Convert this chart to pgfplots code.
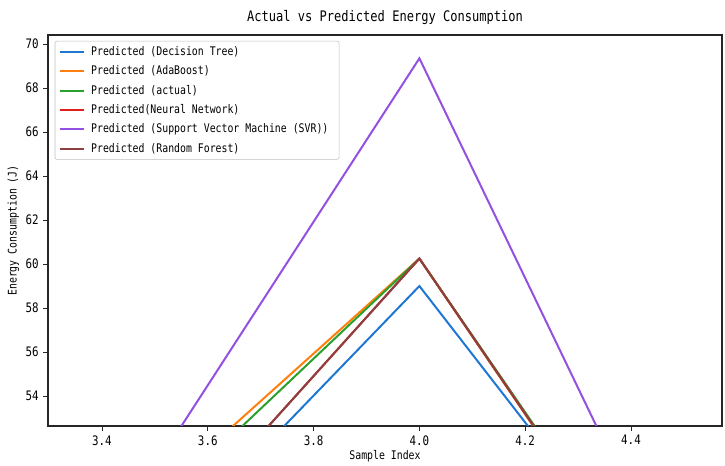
\documentclass[border=0pt]{standalone}
\usepackage{fontspec}
\setmainfont[FakeStretch=0.83]{DejaVu Sans Mono}
\usepackage{pgfplots}
\pgfplotsset{compat=1.18}
\definecolor{dtblue}{HTML}{1F77D4}
\definecolor{adaorange}{HTML}{FF7F0E}
\definecolor{actgreen}{HTML}{2CA02C}
\definecolor{nnred}{HTML}{E0201C}
\definecolor{svrpurple}{HTML}{9450E0}
\definecolor{rfbrown}{HTML}{8C4040}

\begin{document}
\begin{tikzpicture}[x=0.75pt,y=0.75pt]
\begin{axis}[
    name=main,
    scale only axis,
    width=505.5pt,
    height=293.25pt,
    xmin=3.298, xmax=4.572,
    ymin=52.64, ymax=70.41,
    xtick={3.4,3.6,3.8,4.0,4.2,4.4},
    ytick={54,56,58,60,62,64,66,68,70},
    tick align=outside,
    tick pos=left,
    major tick length=3.5pt,
    axis line style={draw=black!85,line width=0.8pt},
    every tick/.style={draw=black!85,line width=0.6pt},
    tick label style={font=\fontsize{9.8}{11}\selectfont},
    xticklabel style={/pgf/number format/.cd,fixed,fixed zerofill,precision=1},
    /pgf/number format/assume math mode=true,
    title={Actual vs Predicted Energy Consumption},
    title style={font=\fontsize{10.9}{12}\selectfont,yshift=-2pt},
    xlabel={Sample Index},
    ylabel={Energy Consumption (J)},
    label style={font=\fontsize{8.9}{10}\selectfont},
    xlabel style={yshift=3pt},
    ylabel style={yshift=-2pt},
    legend cell align=left,
    legend style={
        font=\fontsize{8.9}{10}\selectfont,
        draw=black!25,
        rounded corners=1.5pt,
        at={(0.01,0.985)},
        anchor=north west,
        row sep=2.2pt,
        inner xsep=3pt,
        inner ysep=2pt,
        nodes={inner xsep=5pt}
    },
    legend image code/.code={\draw[#1,line width=1.5pt] (0cm,0cm) -- (0.62cm,0cm);},
    every axis plot/.append style={line width=1.5pt,no marks},
]
\addplot[dtblue] coordinates {(3,34.1) (4,59.0) (5,28.0)};
\addlegendentry{Predicted (Decision Tree)}
\addplot[adaorange] coordinates {(3,38.65) (4,60.25) (5,24.85)};
\addlegendentry{Predicted (AdaBoost)}
\addplot[actgreen] coordinates {(3,37.5) (4,60.25) (5,25.3)};
\addlegendentry{Predicted (actual)}
\addplot[nnred] coordinates {(3,33.55) (4,60.25) (5,25.0)};
\addlegendentry{Predicted(Neural Network)}
\addplot[svrpurple] coordinates {(3,32.2) (4,69.35) (5,19.4)};
\addlegendentry{Predicted (Support Vector Machine (SVR))}
\addplot[rfbrown] coordinates {(3,33.55) (4,60.25) (5,25.0)};
\addlegendentry{Predicted (Random Forest)}
\end{axis}
\pgfresetboundingbox
\path ([xshift=-36pt,yshift=-29.25pt]main.south west) rectangle ([xshift=2.25pt,yshift=26.25pt]main.north east);
\end{tikzpicture}
\end{document}
